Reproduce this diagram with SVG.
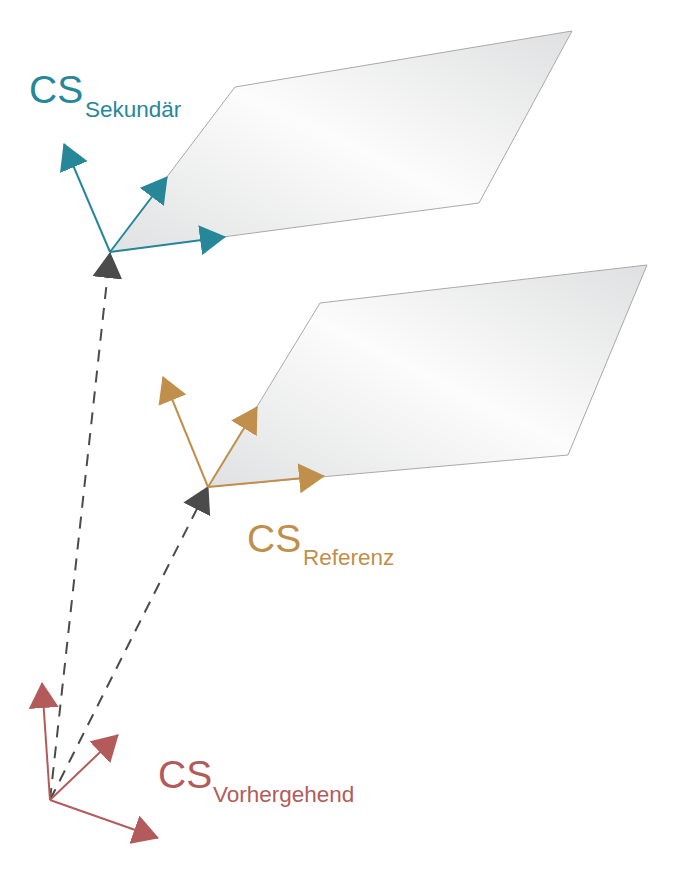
<svg xmlns="http://www.w3.org/2000/svg" width="675" height="870" viewBox="0 0 675 870">
<defs>
<linearGradient id="pg" x1="0" y1="1" x2="1" y2="0">
<stop offset="0" stop-color="#e0e1e2"/>
<stop offset="0.5" stop-color="#fcfcfc"/>
<stop offset="1" stop-color="#dfe0e1"/>
</linearGradient>
<marker id="mt" markerUnits="userSpaceOnUse" markerWidth="28" markerHeight="30" refX="25" refY="15" orient="auto" viewBox="0 0 28 30"><path d="M0,0 L26,15 L0,30 z" fill="#268799"/></marker>
<marker id="mg" markerUnits="userSpaceOnUse" markerWidth="28" markerHeight="30" refX="25" refY="15" orient="auto" viewBox="0 0 28 30"><path d="M0,0 L26,15 L0,30 z" fill="#c08f4b"/></marker>
<marker id="mr" markerUnits="userSpaceOnUse" markerWidth="28" markerHeight="30" refX="25" refY="15" orient="auto" viewBox="0 0 28 30"><path d="M0,0 L26,15 L0,30 z" fill="#b35b5b"/></marker>
<marker id="md" markerUnits="userSpaceOnUse" markerWidth="28" markerHeight="30" refX="25" refY="15" orient="auto" viewBox="0 0 28 30"><path d="M0,0 L26,15 L0,30 z" fill="#4b4b4b"/></marker>
</defs>
<style>
.plane{fill:url(#pg);stroke:#a9a9a9;stroke-width:1}
.ax{fill:none;stroke-width:2}
.t{stroke:#268799;marker-end:url(#mt)}
.g{stroke:#c08f4b;marker-end:url(#mg)}
.r{stroke:#b35b5b;marker-end:url(#mr)}
.dash{fill:none;stroke:#4b4b4b;stroke-width:2;stroke-dasharray:12 9;marker-end:url(#md)}
.cs{font-family:"Liberation Sans",Arial,sans-serif;font-size:39px}
.sub{font-family:"Liberation Sans",Arial,sans-serif;font-size:22.5px}
</style>
<g id="plane-sekundaer"><polygon class="plane" points="110,252 235,87 572,31 479,203"/></g>
<g id="plane-referenz"><polygon class="plane" points="208,487 320,303 647,265 568,455"/></g>
<g id="connectors">
<line class="dash" x1="50" y1="800" x2="110" y2="253"/>
<line class="dash" x1="50" y1="800" x2="208" y2="487"/>
</g>
<g id="cs-sekundaer">
<line class="ax t" x1="110" y1="252" x2="64" y2="144"/>
<line class="ax t" x1="110" y1="252" x2="167" y2="177"/>
<line class="ax t" x1="110" y1="252" x2="225" y2="237"/>
<text class="cs" x="29" y="103" fill="#268799">CS</text>
<text class="sub" x="85" y="117" fill="#268799">Sekundär</text>
</g>
<g id="cs-referenz">
<line class="ax g" x1="208" y1="487" x2="163" y2="377"/>
<line class="ax g" x1="208" y1="487" x2="257" y2="407"/>
<line class="ax g" x1="208" y1="487" x2="324" y2="476"/>
<text class="cs" x="247" y="552" fill="#c08f4b">CS</text>
<text class="sub" x="303" y="565" fill="#c08f4b">Referenz</text>
</g>
<g id="cs-vorhergehend">
<line class="ax r" x1="50" y1="800" x2="42" y2="683"/>
<line class="ax r" x1="50" y1="800" x2="118" y2="735"/>
<line class="ax r" x1="50" y1="800" x2="158" y2="838"/>
<text class="cs" x="158" y="788" fill="#b35b5b">CS</text>
<text class="sub" x="213" y="802" fill="#b35b5b">Vorhergehend</text>
</g>
</svg>
